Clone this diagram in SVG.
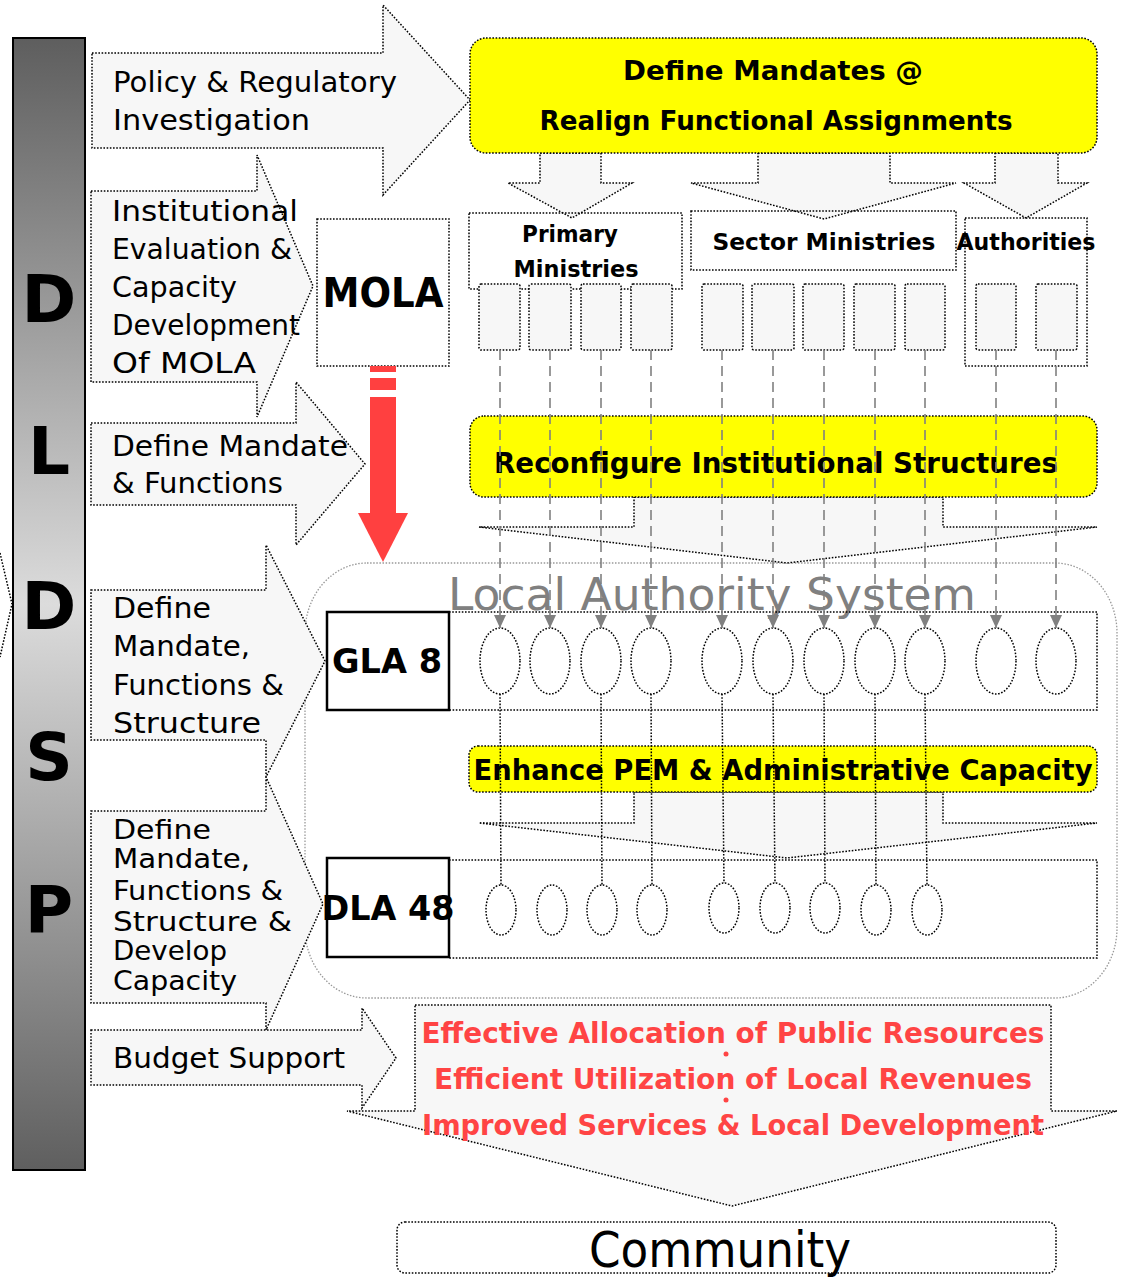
<svg xmlns="http://www.w3.org/2000/svg" width="1123" height="1278" viewBox="0 0 1123 1278">
<defs>
<linearGradient id="barg" x1="0" y1="0" x2="0" y2="1">
<stop offset="0" stop-color="#5e5e5e"/>
<stop offset="0.5" stop-color="#dcdcdc"/>
<stop offset="1" stop-color="#5f5f5f"/>
</linearGradient>
<marker id="ga" viewBox="0 -6 13 12" refX="13" refY="0" markerWidth="13" markerHeight="12" markerUnits="userSpaceOnUse" orient="auto">
<path d="M0,-6 L13,0 L0,6 z" fill="#808080"/>
</marker>
<style>
.dot{stroke:#000;stroke-width:1.5;stroke-dasharray:1.6 1.6;}
.arr{fill:#f7f7f7;stroke:#000;stroke-width:1.5;stroke-dasharray:1.6 1.6;}
.yel{fill:#ffff00;stroke:#000;stroke-width:1.5;stroke-dasharray:1.6 1.6;}
.sm{fill:#f7f7f7;stroke:#000;stroke-width:1.5;stroke-dasharray:1.6 1.6;}
.ell{fill:none;stroke:#000;stroke-width:1.5;stroke-dasharray:1.6 1.6;}
.t{font-family:"DejaVu Sans","Liberation Sans",sans-serif;font-size:29px;fill:#000;}
.t2{font-family:"DejaVu Sans","Liberation Sans",sans-serif;font-size:27px;fill:#000;}
.b{font-family:"DejaVu Sans","Liberation Sans",sans-serif;font-weight:bold;fill:#000;}
.red{font-family:"DejaVu Sans","Liberation Sans",sans-serif;font-weight:bold;font-size:28px;fill:#ff4444;}
.gl{stroke:#808080;stroke-width:1.6;stroke-dasharray:10 6;fill:none;}
.bl{stroke:#000;stroke-width:1.5;stroke-dasharray:1.6 1.6;fill:none;}
</style>
</defs>
<rect width="1123" height="1278" fill="#ffffff"/>

<!-- left bar -->
<g id="dldsp">
<rect x="13" y="38" width="72" height="1132" fill="url(#barg)" stroke="#000" stroke-width="2"/>
<text class="b" font-size="66" x="49" y="322" text-anchor="middle">D</text>
<text class="b" font-size="66" x="49" y="474" text-anchor="middle">L</text>
<text class="b" font-size="66" x="49" y="629" text-anchor="middle">D</text>
<text class="b" font-size="66" x="49" y="780" text-anchor="middle">S</text>
<text class="b" font-size="66" x="49" y="933" text-anchor="middle">P</text>
</g>
<polyline points="0,553 12,604 0,657" fill="none" class="dot"/>

<!-- local authority system container -->
<g id="las">
<rect x="305" y="563" width="812" height="435" rx="62" ry="70" fill="none" stroke="#999" stroke-width="1.3" stroke-dasharray="1.5 1.6"/>
</g>

<!-- left arrows -->
<g id="arrow-policy">
<polygon class="arr" points="92,53 383,53 383,5 470,100 383,195 383,148 92,148"/>
<text class="t" x="113" y="92" textLength="284" lengthAdjust="spacingAndGlyphs">Policy &amp; Regulatory</text>
<text class="t" x="113" y="130" textLength="197" lengthAdjust="spacingAndGlyphs">Investigation</text>
</g>
<g id="arrow-institutional">
<polygon class="arr" points="91,191 257,191 257,155 313,286 257,417 257,382 91,382"/>
<text class="t" x="112" y="221" textLength="186" lengthAdjust="spacingAndGlyphs">Institutional</text>
<text class="t" x="112" y="259" textLength="180" lengthAdjust="spacingAndGlyphs">Evaluation &amp;</text>
<text class="t" x="112" y="297" textLength="125" lengthAdjust="spacingAndGlyphs">Capacity</text>
<text class="t" x="112" y="335" textLength="188" lengthAdjust="spacingAndGlyphs">Development</text>
<text class="t" x="112" y="373" textLength="144" lengthAdjust="spacingAndGlyphs">Of MOLA</text>
</g>
<g id="arrow-mandate">
<polygon class="arr" points="91,423 296,423 296,382 365,464 296,545 296,505 91,505"/>
<text class="t" x="112" y="456" textLength="236" lengthAdjust="spacingAndGlyphs">Define Mandate</text>
<text class="t" x="112" y="493" textLength="171" lengthAdjust="spacingAndGlyphs">&amp; Functions</text>
</g>
<g id="arrow-gla">
<polygon class="arr" points="91,590 266,590 266,545 325,661 266,777 266,740 91,740"/>
<text class="t" x="113" y="618" textLength="98" lengthAdjust="spacingAndGlyphs">Define</text>
<text class="t" x="113" y="656" textLength="137" lengthAdjust="spacingAndGlyphs">Mandate,</text>
<text class="t" x="113" y="695" textLength="171" lengthAdjust="spacingAndGlyphs">Functions &amp;</text>
<text class="t" x="113" y="733" textLength="148" lengthAdjust="spacingAndGlyphs">Structure</text>
</g>
<g id="arrow-dla">
<polygon class="arr" points="91,811 266,811 266,777 323,904 266,1030 266,1003 91,1003"/>
<text class="t2" x="113" y="839" textLength="98" lengthAdjust="spacingAndGlyphs">Define</text>
<text class="t2" x="113" y="868" textLength="137" lengthAdjust="spacingAndGlyphs">Mandate,</text>
<text class="t2" x="113" y="900" textLength="170" lengthAdjust="spacingAndGlyphs">Functions &amp;</text>
<text class="t2" x="113" y="931" textLength="179" lengthAdjust="spacingAndGlyphs">Structure &amp;</text>
<text class="t2" x="113" y="960" textLength="114" lengthAdjust="spacingAndGlyphs">Develop</text>
<text class="t2" x="113" y="990" textLength="124" lengthAdjust="spacingAndGlyphs">Capacity</text>
</g>

<!-- top yellow box and down arrows -->
<g id="down-arrows-top">
<polygon class="arr" points="540,153 601,153 601,183 632,183 572,218 508,183 540,183"/>
<polygon class="arr" points="758,153 890,153 890,183 956,183 824,219 691,183 758,183"/>
<polygon class="arr" points="995,153 1058,153 1058,183 1087,183 1026,218 964,183 995,183"/>
</g>
<g id="define-mandates">
<rect class="yel" x="470" y="38" width="627" height="115" rx="16"/>
<text class="b" font-size="27" x="773" y="80" text-anchor="middle" textLength="300" lengthAdjust="spacingAndGlyphs">Define Mandates @</text>
<text class="b" font-size="27" x="776" y="130" text-anchor="middle" textLength="473" lengthAdjust="spacingAndGlyphs">Realign Functional Assignments</text>
</g>

<!-- MOLA -->
<g id="mola">
<rect x="317" y="219" width="132" height="147" fill="#fff" class="dot"/>
<text class="b" font-size="41" x="383" y="307" text-anchor="middle" textLength="121" lengthAdjust="spacingAndGlyphs">MOLA</text>
</g>
<g id="red-arrow">
<rect x="370" y="366" width="26" height="6" fill="#ff4040"/>
<rect x="370" y="378" width="26" height="12" fill="#ff4040"/>
<rect x="370" y="397" width="26" height="117" fill="#ff4040"/>
<polygon points="358,513 408,513 383,562" fill="#ff4040"/>
</g>

<!-- ministries -->
<g id="primary-ministries">
<rect x="469" y="213" width="213" height="76" fill="none" class="dot"/>
<text class="b" font-size="22.5" x="570" y="242" text-anchor="middle" textLength="96" lengthAdjust="spacingAndGlyphs">Primary</text>
<text class="b" font-size="22.5" x="576" y="277" text-anchor="middle" textLength="125" lengthAdjust="spacingAndGlyphs">Ministries</text>
<rect class="sm" x="479" y="284" width="41" height="66" rx="2"/>
<rect class="sm" x="529" y="284" width="42" height="66" rx="2"/>
<rect class="sm" x="581" y="284" width="40" height="66" rx="2"/>
<rect class="sm" x="631" y="284" width="41" height="66" rx="2"/>
</g>
<g id="sector-ministries">
<rect x="691" y="211" width="265" height="59" fill="none" class="dot"/>
<text class="b" font-size="23" x="824" y="250" text-anchor="middle" textLength="223" lengthAdjust="spacingAndGlyphs">Sector Ministries</text>
<rect class="sm" x="702" y="284" width="41" height="66" rx="2"/>
<rect class="sm" x="752" y="284" width="42" height="66" rx="2"/>
<rect class="sm" x="803" y="284" width="41" height="66" rx="2"/>
<rect class="sm" x="854" y="284" width="41" height="66" rx="2"/>
<rect class="sm" x="905" y="284" width="40" height="66" rx="2"/>
</g>
<g id="authorities">
<rect x="965" y="218" width="122" height="148" fill="none" class="dot"/>
<text class="b" font-size="22.5" x="1026" y="250" text-anchor="middle" textLength="139" lengthAdjust="spacingAndGlyphs">Authorities</text>
<rect class="sm" x="976" y="284" width="40" height="66" rx="2"/>
<rect class="sm" x="1036" y="284" width="41" height="66" rx="2"/>
</g>

<!-- reconfigure -->
<g id="reconfigure">
<polygon class="arr" points="634,497 943,497 943,527 1097,527 787,563 479,527 634,527"/>
<rect class="yel" x="470" y="416" width="627" height="81" rx="14"/>
<text class="b" font-size="28" x="776" y="473" text-anchor="middle" textLength="564" lengthAdjust="spacingAndGlyphs">Reconfigure Institutional Structures</text>
</g>

<text x="448" y="610" font-family="DejaVu Sans, Liberation Sans, sans-serif" font-size="45" fill="#808080" textLength="528" lengthAdjust="spacingAndGlyphs">Local Authority System</text>

<!-- GLA row -->
<g id="gla-row">
<rect x="449" y="612" width="648" height="98" fill="none" class="dot"/>
<ellipse class="ell" cx="500" cy="661" rx="20" ry="33"/>
<ellipse class="ell" cx="550" cy="661" rx="20" ry="33"/>
<ellipse class="ell" cx="601" cy="661" rx="20" ry="33"/>
<ellipse class="ell" cx="651" cy="661" rx="20" ry="33"/>
<ellipse class="ell" cx="722" cy="661" rx="20" ry="33"/>
<ellipse class="ell" cx="773" cy="661" rx="20" ry="33"/>
<ellipse class="ell" cx="824" cy="661" rx="20" ry="33"/>
<ellipse class="ell" cx="875" cy="661" rx="20" ry="33"/>
<ellipse class="ell" cx="925" cy="661" rx="20" ry="33"/>
<ellipse class="ell" cx="996" cy="661" rx="20" ry="33"/>
<ellipse class="ell" cx="1056" cy="661" rx="20" ry="33"/>
</g>
<g id="gla8">
<rect x="327" y="612" width="122" height="98" fill="#fff" stroke="#000" stroke-width="2.5"/>
<text class="b" font-size="34" x="387" y="673" text-anchor="middle" textLength="110" lengthAdjust="spacingAndGlyphs">GLA 8</text>
</g>

<!-- enhance -->
<g id="enhance">
<polygon class="arr" points="634,792 943,792 943,823 1097,823 787,858 479,823 634,823"/>
<rect class="yel" x="469" y="746" width="628" height="46" rx="9"/>
<text class="b" font-size="28" x="783" y="780" text-anchor="middle" textLength="619" lengthAdjust="spacingAndGlyphs">Enhance PEM &amp; Administrative Capacity</text>
</g>

<!-- DLA row -->
<g id="dla-row">
<rect x="449" y="860" width="648" height="98" fill="none" class="dot"/>
<ellipse class="ell" cx="501" cy="910" rx="15" ry="25"/>
<ellipse class="ell" cx="552" cy="910" rx="15" ry="25"/>
<ellipse class="ell" cx="602" cy="910" rx="15" ry="25"/>
<ellipse class="ell" cx="652" cy="910" rx="15" ry="25"/>
<ellipse class="ell" cx="724" cy="908" rx="15" ry="25"/>
<ellipse class="ell" cx="775" cy="908" rx="15" ry="25"/>
<ellipse class="ell" cx="825" cy="908" rx="15" ry="25"/>
<ellipse class="ell" cx="876" cy="910" rx="15" ry="25"/>
<ellipse class="ell" cx="927" cy="910" rx="15" ry="25"/>
</g>
<g id="dla48">
<rect x="327" y="858" width="122" height="99" fill="#fff" stroke="#000" stroke-width="2.5"/>
<text class="b" font-size="34" x="388" y="920" text-anchor="middle" textLength="133" lengthAdjust="spacingAndGlyphs">DLA 48</text>
</g>

<!-- connectors -->
<g id="connectors">
<line class="gl" x1="500" y1="350" x2="500" y2="628" marker-end="url(#ga)"/>
<line class="gl" x1="550" y1="350" x2="550" y2="628" marker-end="url(#ga)"/>
<line class="gl" x1="601" y1="350" x2="601" y2="628" marker-end="url(#ga)"/>
<line class="gl" x1="651" y1="350" x2="651" y2="628" marker-end="url(#ga)"/>
<line class="gl" x1="722" y1="350" x2="722" y2="628" marker-end="url(#ga)"/>
<line class="gl" x1="773" y1="350" x2="773" y2="628" marker-end="url(#ga)"/>
<line class="gl" x1="824" y1="350" x2="824" y2="628" marker-end="url(#ga)"/>
<line class="gl" x1="875" y1="350" x2="875" y2="628" marker-end="url(#ga)"/>
<line class="gl" x1="925" y1="350" x2="925" y2="628" marker-end="url(#ga)"/>
<line class="gl" x1="996" y1="350" x2="996" y2="628" marker-end="url(#ga)"/>
<line class="gl" x1="1056" y1="350" x2="1056" y2="628" marker-end="url(#ga)"/>
<line class="bl" x1="500" y1="694" x2="501" y2="885"/>
<line class="bl" x1="601" y1="694" x2="602" y2="885"/>
<line class="bl" x1="651" y1="694" x2="652" y2="885"/>
<line class="bl" x1="722" y1="694" x2="724" y2="883"/>
<line class="bl" x1="773" y1="694" x2="775" y2="883"/>
<line class="bl" x1="824" y1="694" x2="825" y2="883"/>
<line class="bl" x1="875" y1="694" x2="876" y2="885"/>
<line class="bl" x1="925" y1="694" x2="927" y2="885"/>
</g>

<!-- outcomes -->
<g id="outcomes">
<polygon class="arr" points="415,1005 1051,1005 1051,1111 1117,1111 732,1206 347,1111 415,1111"/>
<text class="red" x="733" y="1043" text-anchor="middle" textLength="623" lengthAdjust="spacingAndGlyphs">Effective Allocation of Public Resources</text>
<text class="red" x="733" y="1089" text-anchor="middle" textLength="598" lengthAdjust="spacingAndGlyphs">Efficient Utilization of Local Revenues</text>
<text class="red" x="733" y="1135" text-anchor="middle" textLength="622" lengthAdjust="spacingAndGlyphs">Improved Services &amp; Local Development</text>
<circle cx="726" cy="1054" r="2.5" fill="#ff4444"/>
<circle cx="726" cy="1100" r="2.5" fill="#ff4444"/>
</g>
<g id="arrow-budget">
<polygon class="arr" points="91,1030 362,1030 362,1008 396,1058 362,1108 362,1085 91,1085"/>
<text class="t" x="113" y="1068" textLength="232" lengthAdjust="spacingAndGlyphs">Budget Support</text>
</g>

<g id="community">
<rect x="397" y="1222" width="659" height="51" rx="8" fill="none" class="dot"/>
<text x="720" y="1267" font-family="DejaVu Sans, Liberation Sans, sans-serif" font-size="50" fill="#000" text-anchor="middle" textLength="262" lengthAdjust="spacingAndGlyphs">Community</text>
</g>
</svg>
